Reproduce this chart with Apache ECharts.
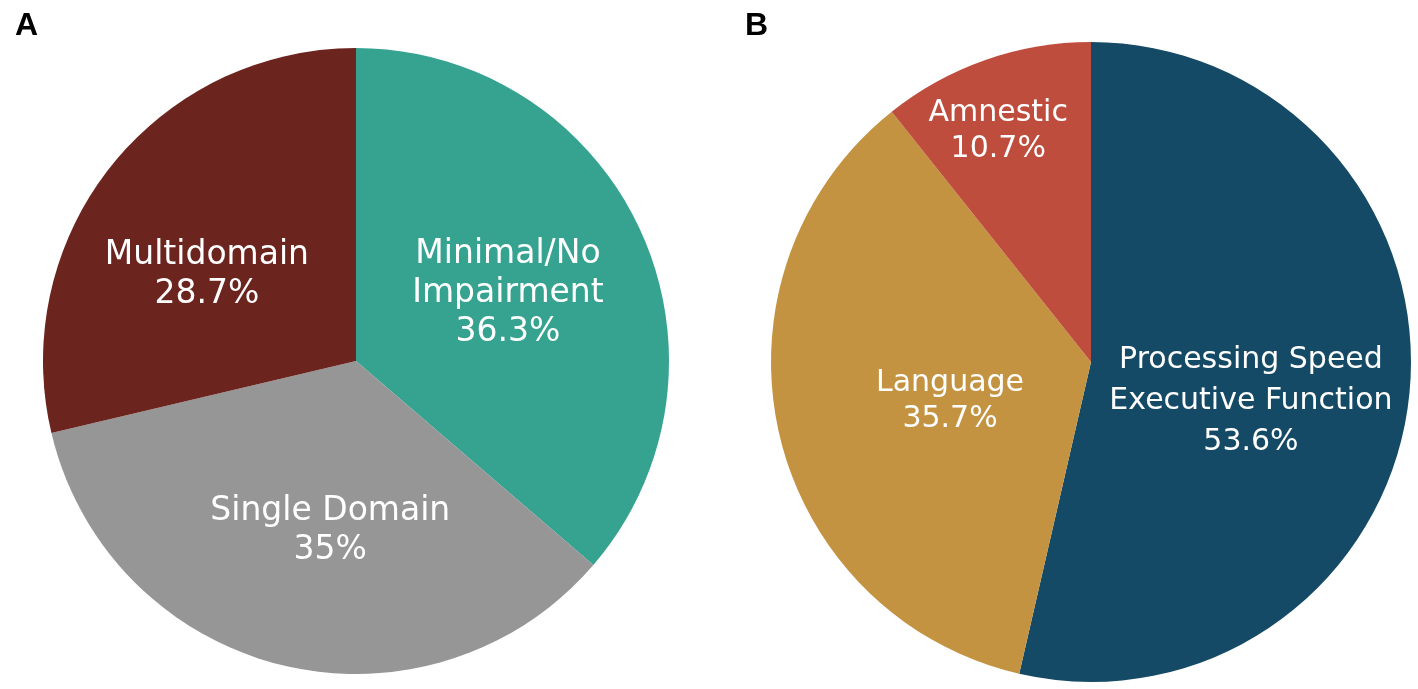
<!DOCTYPE html>
<html>
<head>
<meta charset="utf-8">
<script src="https://cdn.jsdelivr.net/npm/echarts@6/dist/echarts.min.js"></script>
<style>
html,body{margin:0;padding:0;background:#fff;}
#chart{width:1418px;height:689px;}
</style>
</head>
<body>
<div id="chart"></div>
<script>
// Panel A
const categoriesA = ['Minimal/No\nImpairment', 'Single Domain', 'Multidomain'];
const valuesA = [36.3, 35, 28.7];
const colorsA = ['#35A38F', '#969696', '#6B241E'];
const labelShiftA = [[7, -1], [12, 15], [-24, 13]];

// Panel B
const categoriesB = ['Processing Speed\nExecutive Function', 'Language', 'Amnestic'];
const valuesB = [53.6, 35.7, 10.7];
const colorsB = ['#154A66', '#C49341', '#BF4D3D'];
const labelShiftB = [[-2, 21], [18, 3], [-39, -77]];
const lineHeightB = [41, 36, 36];

const panelTitles = ['A', 'B'];

const FONT = '"DejaVu Sans", Verdana, sans-serif';
const TITLE_FONT = '"Liberation Sans", Arial, Helvetica, sans-serif';

function mkData(cats, vals, cols, lh) {
  return cats.map((c, i) => {
    const d = { name: c, value: vals[i], itemStyle: { color: cols[i] } };
    if (lh) d.label = { lineHeight: lh[i] };
    return d;
  });
}

const chart = echarts.init(document.getElementById('chart'), null, { renderer: 'canvas' });

chart.setOption({
  animation: false,
  backgroundColor: '#ffffff',
  title: [
    { text: panelTitles[0], left: 10, top: 5, textStyle: { fontFamily: TITLE_FONT, fontWeight: 'bold', fontSize: 32, color: '#000' } },
    { text: panelTitles[1], left: 740, top: 5, textStyle: { fontFamily: TITLE_FONT, fontWeight: 'bold', fontSize: 32, color: '#000' } }
  ],
  series: [
    {
      type: 'pie',
      center: [356, 361],
      radius: [0, 313],
      startAngle: 90,
      clockwise: true,
      silent: true,
      emphasis: { disabled: true, scale: false },
      data: mkData(categoriesA, valuesA, colorsA),
      label: {
        show: true,
        position: 'inside',
        formatter: p => p.name + '\n' + p.value + '%',
        color: '#ffffff',
        fontFamily: FONT,
        fontSize: 33,
        lineHeight: 39,
        align: 'center'
      },
      labelLine: { show: false },
      labelLayout: p => ({ dx: labelShiftA[p.dataIndex][0], dy: labelShiftA[p.dataIndex][1] })
    },
    {
      type: 'pie',
      center: [1091, 362],
      radius: [0, 320],
      startAngle: 90,
      clockwise: true,
      silent: true,
      emphasis: { disabled: true, scale: false },
      data: mkData(categoriesB, valuesB, colorsB, lineHeightB),
      label: {
        show: true,
        position: 'inside',
        formatter: p => p.name + '\n' + p.value + '%',
        color: '#ffffff',
        fontFamily: FONT,
        fontSize: 30,
        lineHeight: 40,
        align: 'center'
      },
      labelLine: { show: false },
      labelLayout: p => ({ dx: labelShiftB[p.dataIndex][0], dy: labelShiftB[p.dataIndex][1] })
    }
  ]
});
</script>
</body>
</html>
